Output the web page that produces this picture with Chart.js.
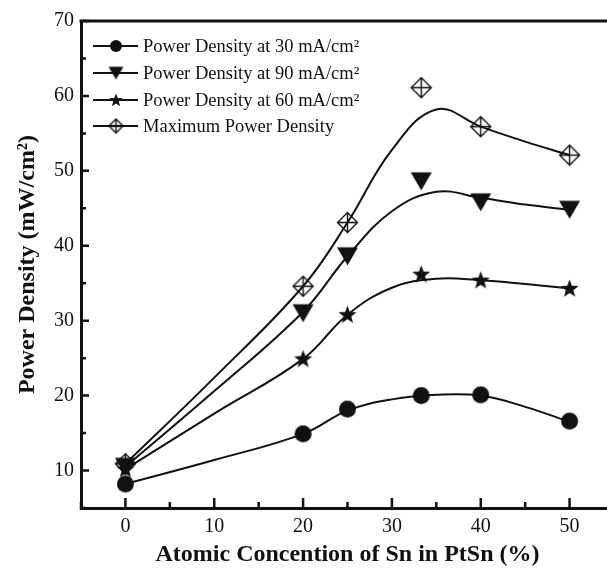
<!DOCTYPE html>
<html>
<head>
<meta charset="utf-8">
<script src="https://cdn.jsdelivr.net/npm/chart.js@4.4.1/dist/chart.umd.min.js"></script>
<style>
  html, body { margin: 0; padding: 0; background: #fff; overflow: hidden; }
  #wrap { width: 607px; height: 569px; overflow: hidden; }
</style>
</head>
<body>
<div id="wrap"><canvas id="chart" width="625" height="569"></canvas></div>
<script>
// measured points
const xPts = [0, 20, 25, 33.3, 40, 50];
const pd30 = [8.2, 14.9, 18.2, 20.0, 20.1, 16.6];
const pd90 = [10.5, 31.0, 38.6, 48.6, 45.8, 44.8];
const pd60 = [10.2, 24.9, 30.8, 36.2, 35.4, 34.3];
const pdMax = [10.9, 34.6, 43.1, 61.1, 55.9, 52.1];

// smoothed guide curves
const fitX = [0, 10, 20, 25, 30, 35, 40, 45, 50];
const fit30 = [8.2, 11.4, 14.9, 18.0, 19.5, 20.1, 20.0, 18.5, 16.5];
const fit90 = [10.5, 20.6, 31.2, 38.6, 44.6, 47.2, 46.4, 45.5, 44.8];
const fit60 = [10.2, 17.6, 24.9, 30.8, 34.4, 35.6, 35.4, 34.9, 34.3];
const fitMax = [10.9, 22.4, 34.6, 43.1, 52.8, 58.2, 55.9, 53.9, 52.1];

const labels = [
    'Power Density at 30 mA/cm²',
    'Power Density at 90 mA/cm²',
    'Power Density at 60 mA/cm²',
    'Maximum Power Density'
];

const xTicks = [0, 10, 20, 30, 40, 50];
const yTicks = [10, 20, 30, 40, 50, 60, 70];

const FONT = "'Liberation Serif', 'Times New Roman', serif";

function pts(xs, ys) {
    return xs.map((x, i) => ({ x: x, y: ys[i] }));
}

function makeMarker(kind, size) {
    const c = document.createElement('canvas');
    c.width = size + 2;
    c.height = size + 2;
    const g = c.getContext('2d');
    const m = c.width / 2;
    const r = size / 2;
    g.fillStyle = '#111';
    g.strokeStyle = '#111';
    if (kind === 'circle') {
        g.beginPath();
        g.arc(m, m, r, 0, Math.PI * 2);
        g.fill();
    } else if (kind === 'tri') {
        g.beginPath();
        g.moveTo(m - r, m - r * 0.85);
        g.lineTo(m + r, m - r * 0.85);
        g.lineTo(m, m + r * 0.85);
        g.closePath();
        g.fill();
    } else if (kind === 'star') {
        g.beginPath();
        for (let i = 0; i < 10; i++) {
            const a = -Math.PI / 2 + i * Math.PI / 5;
            const rr = i % 2 === 0 ? r : r * 0.42;
            const px = m + Math.cos(a) * rr;
            const py = m + 0.5 + Math.sin(a) * rr;
            if (i === 0) g.moveTo(px, py); else g.lineTo(px, py);
        }
        g.closePath();
        g.fill();
    } else if (kind === 'diamond') {
        g.lineWidth = 1.4;
        g.beginPath();
        g.moveTo(m, m - r + 0.5);
        g.lineTo(m + r - 0.5, m);
        g.lineTo(m, m + r - 0.5);
        g.lineTo(m - r + 0.5, m);
        g.closePath();
        g.moveTo(m, m - r);
        g.lineTo(m, m + r);
        g.moveTo(m - r, m);
        g.lineTo(m + r, m);
        g.stroke();
    }
    return c;
}

const kinds = ['circle', 'tri', 'star', 'diamond'];
const plotSize = [17, 21, 19, 21];
const legSize = [12, 15, 14, 15];
const series = [pd30, pd90, pd60, pdMax];
const fits = [fit30, fit90, fit60, fitMax];

const datasets = [];
series.forEach((s, i) => {
    datasets.push({
        label: '',
        data: pts(fitX, fits[i]),
        borderColor: '#111',
        borderWidth: 2,
        pointRadius: 0,
        fill: false,
        tension: 0.4
    });
});
series.forEach((s, i) => {
    datasets.push({
        label: labels[i],
        data: pts(xPts, s),
        showLine: false,
        pointStyle: makeMarker(kinds[i], plotSize[i]),
        legendIcon: makeMarker(kinds[i], legSize[i]),
        pointRadius: 10
    });
});

// frame top line, inward ticks, legend box
const extras = {
    id: 'extras',
    afterDraw(chart) {
        const ctx = chart.ctx;
        const a = chart.chartArea;
        const xs = chart.scales.x;
        const ys = chart.scales.y;
        ctx.save();
        ctx.strokeStyle = '#111';
        ctx.lineWidth = 3;
        ctx.beginPath();
        ctx.moveTo(a.left - 1.5, a.top);
        ctx.lineTo(a.right + 2, a.top);
        ctx.stroke();

        ctx.lineWidth = 2.5;
        ctx.beginPath();
        for (let v = -5; v <= 55; v += 5) {
            const px = xs.getPixelForValue(v);
            const len = v % 10 === 0 ? 10 : 6;
            ctx.moveTo(px, a.bottom + 2);
            ctx.lineTo(px, a.bottom - len);
        }
        for (let v = 5; v <= 70; v += 5) {
            const py = ys.getPixelForValue(v);
            const len = v % 10 === 0 ? 8 : 5;
            ctx.moveTo(a.left, py);
            ctx.lineTo(a.left + len, py);
        }
        ctx.stroke();

        // legend
        const rows = [46, 73, 100, 126];
        ctx.font = '18.5px ' + FONT;
        ctx.textBaseline = 'middle';
        ctx.fillStyle = '#111';
        let k = 0;
        chart.data.datasets.forEach(ds => {
            if (!ds.label) return;
            const y = rows[k++];
            ctx.lineWidth = 2;
            ctx.beginPath();
            ctx.moveTo(93, y);
            ctx.lineTo(138, y);
            ctx.stroke();
            const img = ds.legendIcon;
            ctx.drawImage(img, 116 - img.width / 2, y - img.height / 2);
            ctx.fillText(ds.label, 143, y + 1);
        });
        ctx.restore();
    }
};

new Chart(document.getElementById('chart'), {
    type: 'line',
    data: { datasets: datasets },
    options: {
        responsive: false,
        animation: false,
        layout: { padding: { top: 21, right: 9, left: 0, bottom: 0 } },
        plugins: {
            legend: { display: false },
            tooltip: { enabled: false }
        },
        scales: {
            x: {
                type: 'linear',
                min: -5,
                max: 55,
                afterFit: s => { s.height = 61; },
                afterBuildTicks: s => { s.ticks = xTicks.map(v => ({ value: v })); },
                grid: { display: true, drawOnChartArea: false, drawTicks: false },
                border: { display: true, width: 3, color: '#111' },
                ticks: { color: '#111', font: { family: FONT, size: 20 }, padding: 7 },
                title: {
                    display: true,
                    text: 'Atomic Concention of Sn in PtSn (%)',
                    color: '#111',
                    font: { family: FONT, size: 24, weight: 'bold' },
                    padding: { top: 0, bottom: 0 }
                }
            },
            y: {
                type: 'linear',
                min: 5,
                max: 70,
                afterFit: s => { s.width = 81; },
                afterBuildTicks: s => { s.ticks = yTicks.map(v => ({ value: v })); },
                grid: { display: true, drawOnChartArea: false, drawTicks: false },
                border: { display: true, width: 3, color: '#111' },
                ticks: { color: '#111', font: { family: FONT, size: 20 }, padding: 7 },
                title: {
                    display: true,
                    text: 'Power Density (mW/cm²)',
                    color: '#111',
                    font: { family: FONT, size: 24, weight: 'bold' },
                    padding: { top: 13, bottom: 0 }
                }
            }
        }
    },
    plugins: [extras]
});
</script>
</body>
</html>
